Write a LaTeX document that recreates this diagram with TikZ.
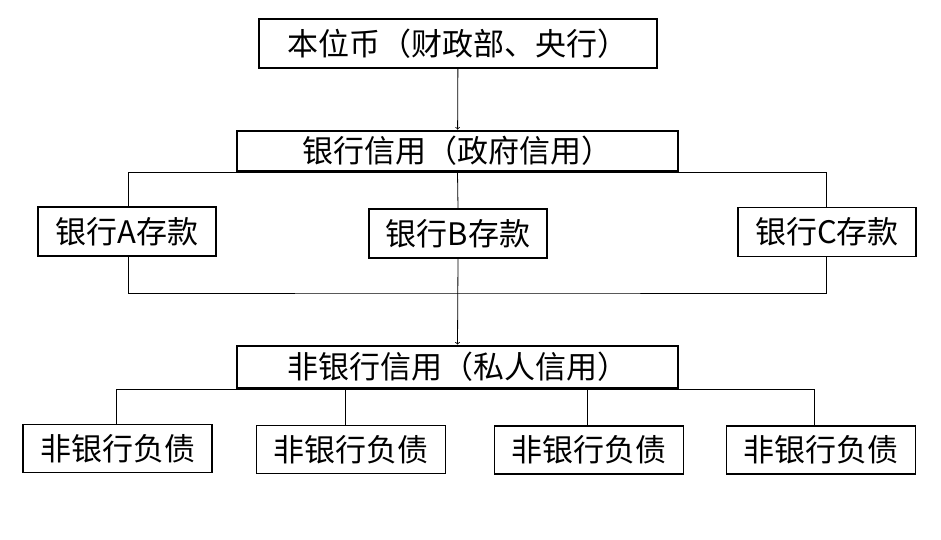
\documentclass[tikz,border=0pt]{standalone}
\usepackage{fontspec}
\newfontfamily\cjk{Noto Sans CJK SC}
\usetikzlibrary{positioning}

\begin{document}
\begin{tikzpicture}[x=1pt, y=-1pt,
    box/.style={draw, line width=1.2pt, inner sep=0pt, font=\cjk\fontsize{31}{36}\selectfont},
    bigbox/.style={box, line width=2.8pt, minimum width=441pt},
    bankbox/.style={box, minimum width=178pt, minimum height=49pt},
    debtbox/.style={box, minimum width=189pt, minimum height=48pt},
    link/.style={line width=0.8pt},
    flow/.style={link, ->}]
            \useasboundingbox (0,0) rectangle (941,539);

            \node[box, minimum width=398pt, minimum height=49pt] (top) at (458,43.5) {本位币（财政部、央行）};
            \node[bigbox, minimum height=40pt] (bank) at (457.5,151) {银行信用（政府信用）};
            \node[bankbox] (bA) at (127,231.5) {银行A存款};
            \node[bankbox] (bB) at (458,233.5) {银行B存款};
            \node[bankbox] (bC) at (827,232) {银行C存款};
            \node[bigbox, minimum height=42pt] (nonbank) at (457.5,367) {非银行信用（私人信用）};
            \node[debtbox] (d1) at (117.5,448.5) {非银行负债};
            \node[debtbox] (d2) at (351,449.5) {非银行负债};
            \node[debtbox] (d3) at (589,450) {非银行负债};
            \node[debtbox] (d4) at (821,450) {非银行负债};
            \coordinate (join) at (458,293);
            \coordinate (d2in) at ([xshift=-6pt]d2.north);
            \coordinate (d3in) at ([xshift=-2pt]d3.north);

            % Draw edges
            \draw[flow] (top) -- (bank);
            \draw[link] ([xshift=1pt]bA.north) |- (bank.south) -| ([xshift=-1pt]bC.north);
            \draw[link] (bank.south) -- (bB.north);
            \draw[link] ([xshift=1pt]bA.south) |- (join) -| ([xshift=-1pt]bC.south);
            \draw[flow] (bB.south) -- (nonbank.north);
            \draw[link] ([xshift=-1.5pt]d1.north) |- (nonbank.south) -| ([xshift=-7pt]d4.north);
            \draw[link] (nonbank.south -| d2in) -- (d2in);
            \draw[link] (nonbank.south -| d3in) -- (d3in);
        \end{tikzpicture}
\end{document}
